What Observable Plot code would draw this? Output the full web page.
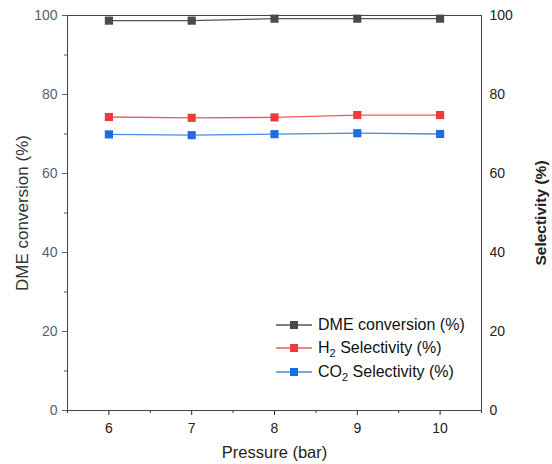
<!DOCTYPE html>
<html><head><meta charset="utf-8">
<script src="https://cdn.jsdelivr.net/npm/d3@7"></script>
<script src="https://cdn.jsdelivr.net/npm/@observablehq/plot@0.6"></script>
<style>
body{margin:0;background:#fff;font-family:"Liberation Sans",Arial,sans-serif;}
#wrap{position:relative;width:552px;height:464px;}
#legend{position:absolute;left:276px;top:313px;font-size:16px;color:#111;}
#legend div{display:flex;align-items:center;height:23.5px;}
#legend svg{margin-right:6px;}
sub{font-size:11px;vertical-align:-4px;line-height:0;}
</style>
</head><body>
<div id="wrap"><div id="chart"></div><div id="legend"></div></div>
<script>
const pressure = [6, 7, 8, 9, 10];
const dmeConversion = [98.7, 98.7, 99.2, 99.2, 99.2];
const h2Selectivity = [74.3, 74.1, 74.2, 74.8, 74.8];
const co2Selectivity = [69.9, 69.7, 69.95, 70.2, 70.0];
const seriesNames = ["DME conversion (%)", "H2 Selectivity (%)", "CO2 Selectivity (%)"];
const seriesLabelsHtml = ["DME conversion (%)", "H<sub>2</sub> Selectivity (%)", "CO<sub>2</sub> Selectivity (%)"];
const lineColors = ["#555555", "#f25a5a", "#4a8ae6"];
const markColors = ["#4a4a4a", "#ef3b3b", "#1c6ee0"];
const yTicks = [0, 20, 40, 60, 80, 100];
const yMinor = [10, 30, 50, 70, 90];
const xMinor = [5.5, 6.5, 7.5, 8.5, 9.5, 10.5];

const allSeries = [dmeConversion, h2Selectivity, co2Selectivity];
const rows = allSeries.flatMap((vals, i) => pressure.map((p, j) => ({p, v: vals[j], s: seriesNames[i]})));

const chart = Plot.plot({
  width: 552, height: 464,
  marginLeft: 67, marginRight: 71, marginTop: 15, marginBottom: 54,
  style: {fontFamily: '"Liberation Sans", Arial, sans-serif', fontSize: "13px", background: "#fff"},
  x: {domain: [5.5, 10.5]},
  y: {domain: [0, 100]},
  color: {domain: seriesNames, range: lineColors},
  marks: [
    Plot.axisX({ticks: pressure, tickFormat: d3.format("d"), tickSize: 5, tickPadding: 8, fontSize: 14, color: "#222",
      label: "Pressure (bar)", labelAnchor: "center", labelOffset: 47, labelArrow: "none"}),
    Plot.axisX({ticks: xMinor, tickSize: 3, text: null, label: null, color: "#333"}),
    Plot.axisY({ticks: yTicks, tickSize: 5, tickPadding: 5, fontSize: 14, color: "#555f70",
      label: "DME conversion (%)", labelAnchor: "center", labelOffset: 52, labelArrow: "none"}),
    Plot.axisY({ticks: yMinor, tickSize: 3, text: null, label: null, color: "#555"}),
    Plot.axisY({anchor: "right", ticks: yTicks, tickSize: 0, tickPadding: 8, fontSize: 14, color: "#222",
      label: "Selectivity (%)", labelAnchor: "center", labelOffset: 64, labelArrow: "none"}),
    Plot.frame({stroke: "#444", strokeWidth: 1}),
    Plot.lineY(rows, {x: "p", y: "v", z: "s", stroke: "s", strokeWidth: 1.3}),
    Plot.dot(rows, {x: "p", y: "v", symbol: "square", r: 4.6,
      fill: d => markColors[seriesNames.indexOf(d.s)], stroke: "none"})
  ]
});
document.getElementById("chart").appendChild(chart);
const labs = chart.querySelectorAll("g[aria-label='x-axis label'] text, g[aria-label='y-axis label'] text");
labs.forEach(t => { t.style.fontSize = "16.5px"; t.setAttribute("fill", "#222"); });
const ylabs = chart.querySelectorAll("g[aria-label='y-axis label'] text");
if (ylabs[0]) { ylabs[0].style.fontSize = "17px"; ylabs[0].setAttribute("fill", "#333"); }
if (ylabs[1]) { ylabs[1].style.fontWeight = "bold"; ylabs[1].style.fontSize = "15.5px"; ylabs[1].setAttribute("fill", "#222"); }

const leg = document.getElementById("legend");
seriesLabelsHtml.forEach((lab, i) => {
  const row = document.createElement("div");
  row.innerHTML = `<svg width="36" height="10"><line x1="0" x2="36" y1="5" y2="5" stroke="${lineColors[i]}" stroke-width="1.3"/><rect x="14" y="1" width="8" height="8" fill="${markColors[i]}"/></svg><span>${lab}</span>`;
  leg.appendChild(row);
});
</script>
</body></html>
